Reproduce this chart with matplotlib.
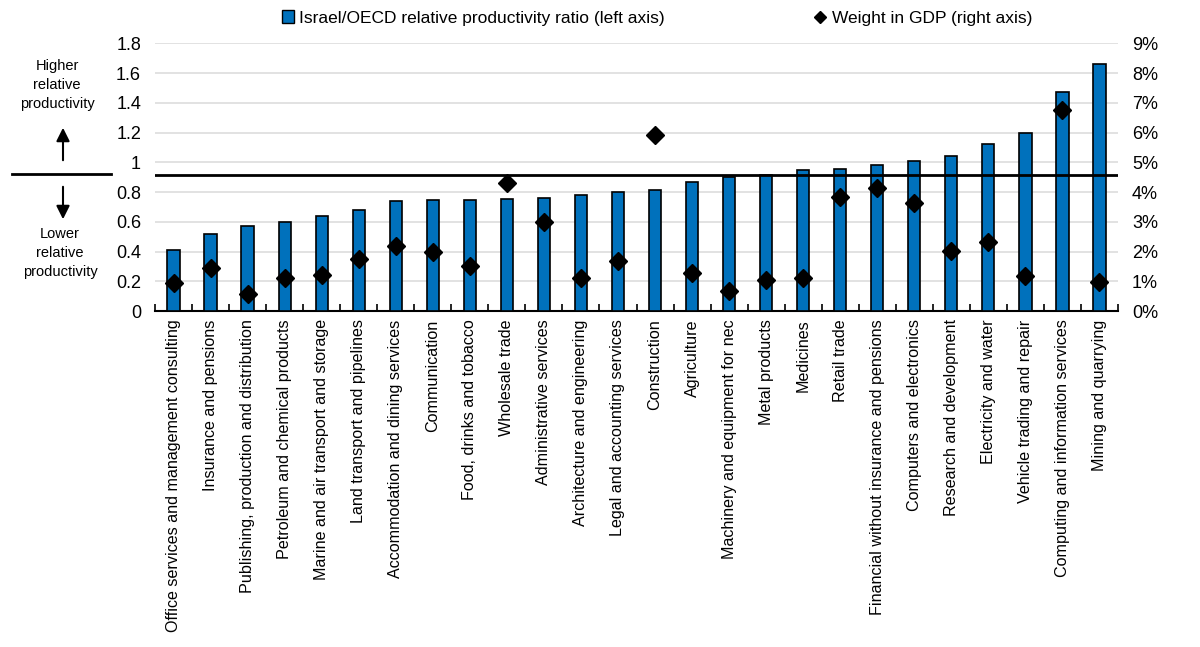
import matplotlib
matplotlib.use('Agg')
import matplotlib.pyplot as plt
import numpy as np
from matplotlib.lines import Line2D
from matplotlib.patches import Patch

plt.rcParams['font.family'] = ['Liberation Sans', 'DejaVu Sans']

sectors = [
    'Office services and management consulting', 'Insurance and pensions',
    'Publishing, production and distribution', 'Petroleum and chemical products',
    'Marine and air transport and storage', 'Land transport and pipelines',
    'Accommodation and dining services', 'Communication',
    'Food, drinks and tobacco', 'Wholesale trade', 'Administrative services',
    'Architecture and engineering', 'Legal and accounting services',
    'Construction', 'Agriculture', 'Machinery and equipment for nec',
    'Metal products', 'Medicines', 'Retail trade',
    'Financial without insurance and pensions', 'Computers and electronics',
    'Research and development', 'Electricity and water',
    'Vehicle trading and repair', 'Computing and information services',
    'Mining and quarrying',
]
ratio = [0.41, 0.52, 0.57, 0.60, 0.64, 0.68, 0.74, 0.745, 0.745, 0.75,
         0.76, 0.78, 0.80, 0.815, 0.865, 0.90, 0.915, 0.95, 0.955, 0.985,
         1.01, 1.045, 1.125, 1.20, 1.475, 1.66]
gdp_weight = [0.94, 1.44, 0.56, 1.11, 1.22, 1.75, 2.17, 1.97, 1.50, 4.32,
              2.98, 1.12, 1.69, 5.92, 1.27, 0.67, 1.05, 1.11, 3.83, 4.13,
              3.64, 2.03, 2.31, 1.19, 6.77, 0.99]
avg_line = 0.915

W, H = 1200, 647
fig = plt.figure(figsize=(W / 100, H / 100), dpi=100)
ax = fig.add_axes([155 / W, 1 - 311 / H, (1118 - 155) / W, (311 - 43.3) / H])
ax2 = ax.twinx()

x = np.arange(len(sectors))
blue = '#0071BC'
ax.bar(x, ratio, width=0.33, color=blue, edgecolor='black', linewidth=1.2, zorder=3)
ax.axhline(avg_line, color='black', linewidth=2, zorder=4)
ax2.plot(x, gdp_weight, linestyle='none', marker='D', markersize=9,
         color='black', zorder=5)

ax.set_xlim(-0.5, len(sectors) - 0.5)
ax.set_ylim(0, 1.8)
ax2.set_ylim(0, 9)
ax.set_yticks(np.arange(0, 1.81, 0.2))
ax.set_yticklabels(['0', '0.2', '0.4', '0.6', '0.8', '1', '1.2', '1.4', '1.6', '1.8'])
ax2.set_yticks(np.arange(0, 10))
ax2.set_yticklabels([f'{i}%' for i in range(10)])
ax.grid(axis='y', color='#dddddd', linewidth=1.2, zorder=0)
ax.set_axisbelow(True)

for a in (ax, ax2):
    for s in ('top', 'left', 'right'):
        a.spines[s].set_visible(False)
    a.tick_params(axis='y', length=0, labelsize=13, pad=10)
ax2.spines['bottom'].set_visible(False)
ax.spines['bottom'].set_linewidth(1.5)

ax.set_xticks(x)
ax.set_xticklabels(sectors, rotation=90, fontsize=11.6)
ax.tick_params(axis='x', length=0, pad=6)
ax.set_xticks(np.arange(-0.5, len(sectors)), minor=True)
ax.tick_params(axis='x', which='minor', direction='in', length=5, width=1.2)

# legend
handles = [Patch(facecolor=blue, edgecolor='black'),
           Line2D([], [], linestyle='none', marker='D', color='black', markersize=6)]
labels = ['Israel/OECD relative productivity ratio (left axis)',
          'Weight in GDP (right axis)']
fig.legend(handles, labels, loc='center', bbox_to_anchor=(657 / W, 1 - 18 / H),
           ncol=2, frameon=False, fontsize=12.5, columnspacing=8.6,
           handlelength=0.7, handletextpad=0.3)

# left annotation
fig.text(57 / W, 1 - 85 / H, 'Higher\nrelative\nproductivity', ha='center',
         va='center', fontsize=10.5, linespacing=1.45)
fig.text(60 / W, 1 - 253 / H, 'Lower\nrelative\nproductivity', ha='center',
         va='center', fontsize=10.5, linespacing=1.45)
fig.add_artist(Line2D([12 / W, 111 / W], [1 - 174 / H, 1 - 174 / H],
                      color='black', linewidth=2))
fig.add_artist(plt.Annotation('', xy=(63 / W, 1 - 125 / H), xytext=(63 / W, 1 - 163 / H),
                              xycoords='figure fraction',
                              arrowprops=dict(arrowstyle='-|>', color='black',
                                              lw=1.5, mutation_scale=20)))
fig.add_artist(plt.Annotation('', xy=(63 / W, 1 - 222 / H), xytext=(63 / W, 1 - 184 / H),
                              xycoords='figure fraction',
                              arrowprops=dict(arrowstyle='-|>', color='black',
                                              lw=1.5, mutation_scale=20)))

fig.savefig('out.png', dpi=100)
